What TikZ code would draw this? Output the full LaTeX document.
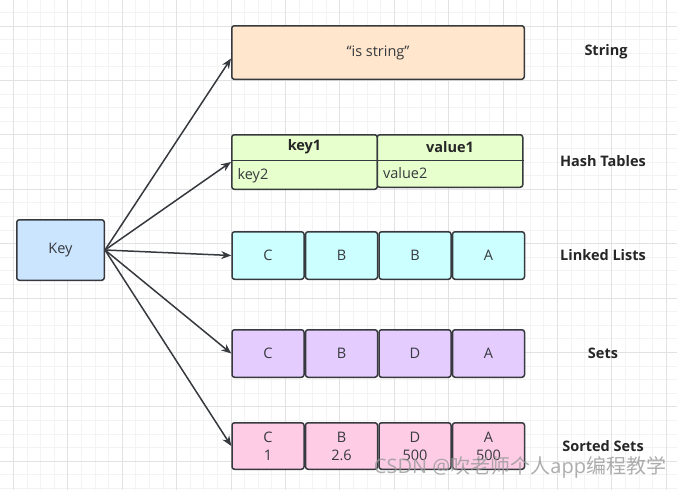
\documentclass[tikz,border=0pt]{standalone}
\usepackage{fontspec}
\setmainfont{Open Sans}
\newfontfamily\cjk{Noto Sans CJK SC}
\usepackage{tikz}
\usetikzlibrary{arrows.meta, positioning}
\definecolor{strokegray}{HTML}{36393D}
\definecolor{keyblue}{HTML}{CCE5FF}
\definecolor{strorange}{HTML}{FFE6CC}
\definecolor{hashgreen}{HTML}{E6FFCC}
\definecolor{listcyan}{HTML}{CCFFFF}
\definecolor{setpurple}{HTML}{E5CCFF}
\definecolor{sortpink}{HTML}{FFCCE6}
\definecolor{gridminor}{HTML}{F3F3F3}
\definecolor{gridmajor}{HTML}{E2E2E2}
\tikzset{
    box/.style={rectangle, rounded corners=2.5pt, text centered, draw=strokegray, line width=1.5pt, text=strokegray, font=\fontsize{14.5}{18}\selectfont},
    cell/.style={box, minimum width=72pt, minimum height=47.5pt, align=center},
    kind/.style={text=black!85, font=\bfseries\fontsize{14.5}{18}\selectfont},
    arrow/.style={draw=strokegray, line width=1.5pt, -{Stealth[length=10pt,width=8pt]}},
}

\begin{document}
\begin{tikzpicture}[x=1pt,y=-1pt,node distance=0pt]
  \useasboundingbox (0,0) rectangle (677,490);
  % background grid
  \foreach \i in {0,...,50} {
    \draw[gridminor, line width=1pt] (-0.1+13.6*\i,0) -- (-0.1+13.6*\i,490);
    \draw[gridminor, line width=1pt] (0,-1.2+13.6*\i) -- (677,-1.2+13.6*\i);
  }
  \foreach \i in {0,...,12} {
    \draw[gridmajor, line width=1pt] (13.5+54.4*\i,0) -- (13.5+54.4*\i,490);
    \draw[gridmajor, line width=1pt] (0,26+54.4*\i) -- (677,26+54.4*\i);
  }

  \node[box, fill=keyblue, minimum width=87.5pt, minimum height=60.5pt] (key) at (60.5,250) {Key};

  \node[box, fill=strorange, minimum width=292.5pt, minimum height=53.5pt] (str) at (378,52.5) {“is string”};

  % hash table
  \node[box, fill=hashgreen, minimum width=145.5pt, minimum height=54.5pt] (hkey) at (304.5,162) {};
  \node[box, fill=hashgreen, minimum width=145.5pt, minimum height=52.5pt, right=-1.5pt of hkey.north east, anchor=north west] (hval) {};
  \node[kind, minimum height=26pt, anchor=north] (hkey1) at (hkey.north) {key1};
  \node[kind, minimum height=26pt, anchor=north] (hval1) at (hval.north) {value1};
  \draw[strokegray, line width=1.5pt] (hkey1.south -| hkey.west) -- (hkey1.south -| hkey.east);
  \draw[strokegray, line width=1.5pt] (hval1.south -| hval.west) -- (hval1.south -| hval.east);
  \node[anchor=west, text=strokegray, font=\fontsize{14.5}{18}\selectfont] (hkey2) at ([xshift=3pt,yshift=-15pt]hkey1.south -| hkey.west) {key2};
  \node[anchor=west, text=strokegray, font=\fontsize{14.5}{18}\selectfont] (hval2) at ([xshift=3pt,yshift=-13pt]hval1.south -| hval.west) {value2};

  % linked list
  \node[cell, fill=listcyan] (l1) at (268,255.5) {C};
  \node[cell, fill=listcyan, right=of l1] (l2) {B};
  \node[cell, fill=listcyan, right=of l2] (l3) {B};
  \node[cell, fill=listcyan, right=of l3] (l4) {A};

  % set
  \node[cell, fill=setpurple] (s1) at (268,353.5) {C};
  \node[cell, fill=setpurple, right=of s1] (s2) {B};
  \node[cell, fill=setpurple, right=of s2] (s3) {D};
  \node[cell, fill=setpurple, right=of s3] (s4) {A};

  % sorted set
  \node[cell, fill=sortpink, minimum height=46.5pt] (z1) at (268,446) {C\\1};
  \node[cell, fill=sortpink, minimum height=46.5pt, right=of z1] (z2) {B\\2.6};
  \node[cell, fill=sortpink, minimum height=46.5pt, right=of z2] (z3) {D\\500};
  \node[cell, fill=sortpink, minimum height=46.5pt, right=of z3] (z4) {A\\500};

  \node[kind] (tstr)  at (606,52)  {String};
  \node[kind] (thash) at (603,161) {Hash Tables};
  \node[kind] (tlist) at (603,255) {Linked Lists};
  \node[kind] (tset)  at (603,353) {Sets};
  \node[kind] (tsort) at (603,446) {Sorted Sets};

  \draw[arrow] (key.east) -- ([yshift=-6pt]str.west);
  \draw[arrow] (key.east) -- (hkey.west);
  \draw[arrow] (key.east) -- (l1.west);
  \draw[arrow] (key.east) -- (s1.west);
  \draw[arrow] (key.east) -- (z1.west);

  \node[text=black!40, opacity=0.8, font=\fontsize{20}{22}\selectfont] (mark) at (520,467) {CSDN @{\cjk 吹老师个人}app{\cjk 编程教学}};
\end{tikzpicture}
\end{document}
